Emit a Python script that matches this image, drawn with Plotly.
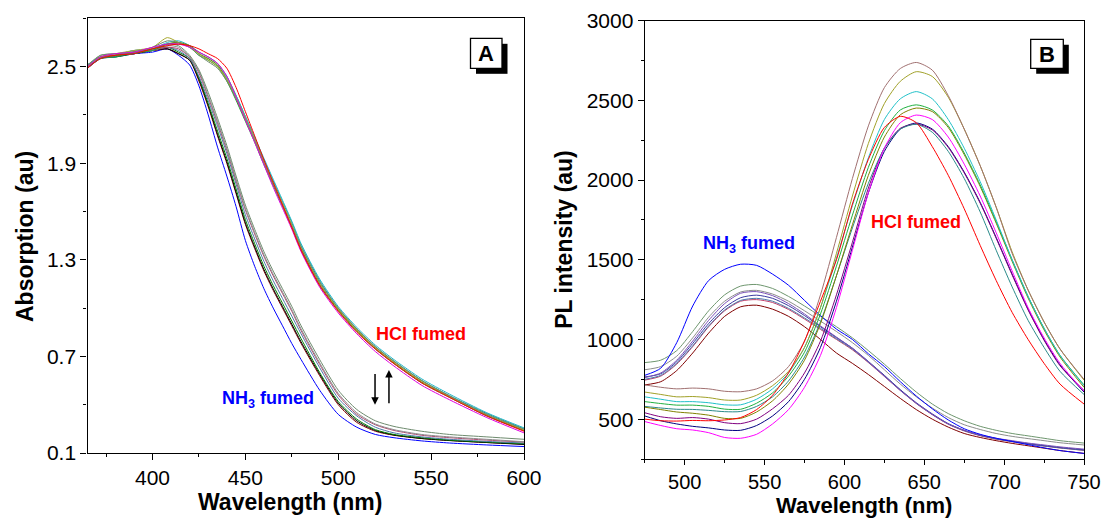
import plotly.graph_objects as go

# ---------------- Panel A: absorption (au) vs wavelength (nm) ----------------
wl_A = [365, 372, 380, 390, 400, 408, 414, 420, 425, 430, 435, 440, 445, 450, 455,
        460, 465, 470, 475, 480, 490, 500, 510, 520, 530, 545, 560, 580, 600]

# NH3 fumed spectra
A_nh3_blue = [2.49, 2.55, 2.56, 2.58, 2.59, 2.61, 2.57, 2.51, 2.38, 2.20, 2.00, 1.82, 1.63, 1.42, 1.26,
              1.12, 1.00, 0.89, 0.78, 0.68, 0.49, 0.34, 0.26, 0.215, 0.195, 0.175, 0.162, 0.150, 0.140]
A_nh3_wine = [2.50, 2.55, 2.57, 2.59, 2.60, 2.61, 2.58, 2.54, 2.41, 2.25, 2.07, 1.90, 1.71, 1.52, 1.37,
              1.23, 1.11, 1.00, 0.89, 0.78, 0.58, 0.40, 0.29, 0.235, 0.210, 0.190, 0.178, 0.165, 0.155]
A_nh3_black = [2.50, 2.56, 2.57, 2.58, 2.60, 2.61, 2.58, 2.54, 2.42, 2.26, 2.08, 1.91, 1.72, 1.53, 1.38,
               1.24, 1.12, 1.01, 0.90, 0.79, 0.59, 0.41, 0.30, 0.240, 0.212, 0.190, 0.177, 0.165, 0.153]
A_nh3_green = [2.51, 2.56, 2.56, 2.58, 2.60, 2.62, 2.59, 2.55, 2.43, 2.27, 2.10, 1.93, 1.74, 1.55, 1.40,
               1.26, 1.14, 1.03, 0.92, 0.81, 0.60, 0.42, 0.31, 0.245, 0.215, 0.195, 0.180, 0.168, 0.158]
A_nh3_steel = [2.49, 2.55, 2.57, 2.58, 2.61, 2.62, 2.60, 2.55, 2.44, 2.29, 2.13, 1.96, 1.77, 1.58, 1.43,
               1.29, 1.17, 1.06, 0.95, 0.84, 0.63, 0.44, 0.33, 0.260, 0.225, 0.200, 0.185, 0.172, 0.162]
A_nh3_rose = [2.51, 2.55, 2.57, 2.60, 2.60, 2.62, 2.61, 2.56, 2.46, 2.31, 2.15, 1.98, 1.79, 1.61, 1.46,
              1.32, 1.20, 1.09, 0.98, 0.86, 0.65, 0.46, 0.34, 0.275, 0.240, 0.210, 0.195, 0.180, 0.168]
A_nh3_gray = [2.50, 2.56, 2.57, 2.59, 2.60, 2.63, 2.62, 2.56, 2.47, 2.32, 2.16, 1.99, 1.80, 1.62, 1.47,
              1.33, 1.21, 1.10, 0.99, 0.87, 0.66, 0.47, 0.35, 0.280, 0.245, 0.215, 0.200, 0.185, 0.170]
A_nh3_graygreen = [2.50, 2.57, 2.58, 2.59, 2.61, 2.64, 2.63, 2.57, 2.48, 2.34, 2.18, 2.01, 1.82, 1.64, 1.49,
                   1.35, 1.23, 1.12, 1.01, 0.89, 0.68, 0.49, 0.37, 0.300, 0.265, 0.235, 0.215, 0.200, 0.185]

# HCl fumed spectra
A_hcl_red = [2.49, 2.55, 2.57, 2.58, 2.61, 2.63, 2.64, 2.63, 2.61, 2.58, 2.55, 2.49, 2.37, 2.22, 2.07,
             1.92, 1.78, 1.64, 1.50, 1.36, 1.14, 0.98, 0.85, 0.745, 0.655, 0.535, 0.445, 0.330, 0.235]
A_hcl_magenta = [2.50, 2.56, 2.58, 2.59, 2.62, 2.64, 2.64, 2.62, 2.59, 2.56, 2.52, 2.44, 2.31, 2.17, 2.03,
                 1.89, 1.75, 1.62, 1.49, 1.35, 1.13, 0.97, 0.84, 0.730, 0.640, 0.520, 0.430, 0.320, 0.225]
A_hcl_olive = [2.50, 2.56, 2.57, 2.59, 2.61, 2.64, 2.65, 2.63, 2.58, 2.55, 2.51, 2.42, 2.30, 2.17, 2.04,
               1.90, 1.77, 1.64, 1.51, 1.37, 1.15, 0.99, 0.86, 0.750, 0.660, 0.540, 0.450, 0.335, 0.240]
A_hcl_green = [2.50, 2.55, 2.56, 2.59, 2.60, 2.64, 2.65, 2.62, 2.57, 2.54, 2.50, 2.41, 2.29, 2.16, 2.03,
               1.89, 1.76, 1.63, 1.50, 1.36, 1.14, 0.985, 0.855, 0.745, 0.655, 0.535, 0.445, 0.330, 0.240]
A_hcl_cyan = [2.51, 2.56, 2.57, 2.60, 2.61, 2.65, 2.66, 2.63, 2.58, 2.55, 2.51, 2.43, 2.32, 2.19, 2.06,
              1.93, 1.80, 1.67, 1.54, 1.40, 1.18, 1.01, 0.88, 0.770, 0.680, 0.560, 0.465, 0.350, 0.256]
A_hcl_graygreen = [2.51, 2.57, 2.58, 2.59, 2.62, 2.66, 2.65, 2.62, 2.57, 2.53, 2.49, 2.41, 2.30, 2.17, 2.04,
                   1.90, 1.77, 1.64, 1.51, 1.38, 1.16, 1.00, 0.87, 0.760, 0.670, 0.550, 0.455, 0.340, 0.248]
A_hcl_teal = [2.49, 2.55, 2.57, 2.58, 2.61, 2.64, 2.64, 2.63, 2.59, 2.56, 2.52, 2.44, 2.32, 2.19, 2.06,
              1.92, 1.79, 1.66, 1.53, 1.39, 1.17, 1.00, 0.87, 0.760, 0.670, 0.550, 0.455, 0.345, 0.250]
A_hcl_yellow = [2.50, 2.56, 2.58, 2.60, 2.62, 2.68, 2.65, 2.62, 2.58, 2.54, 2.50, 2.42, 2.31, 2.18, 2.05,
                1.91, 1.78, 1.65, 1.52, 1.38, 1.16, 0.995, 0.865, 0.755, 0.665, 0.545, 0.450, 0.338, 0.244]

# ---------------- Panel B: PL intensity (au) vs wavelength (nm) ----------------
wl_B = [475, 485, 495, 505, 515, 525, 535, 545, 555, 565, 575, 585, 595, 605,
        615, 625, 635, 645, 655, 665, 675, 685, 695, 705, 715, 725, 735, 750]

# NH3 fumed spectra
B_nh3_blue = [775, 820, 980, 1210, 1370, 1440, 1472, 1465, 1410, 1340, 1245, 1150, 1065, 1000,
              910, 830, 735, 645, 565, 495, 440, 405, 380, 360, 340, 320, 303, 285]
B_nh3_graygreen = [855, 870, 930, 1050, 1180, 1280, 1335, 1345, 1320, 1270, 1210, 1145, 1080, 1010,
                   930, 845, 755, 670, 595, 535, 490, 455, 430, 410, 395, 380, 365, 350]
B_nh3_gray = [810, 830, 895, 1010, 1140, 1240, 1298, 1308, 1285, 1240, 1180, 1115, 1050, 980,
              900, 810, 720, 640, 570, 510, 465, 435, 410, 392, 378, 365, 352, 338]
B_nh3_purple = [760, 790, 870, 990, 1120, 1225, 1290, 1300, 1275, 1225, 1160, 1085, 1015, 945,
                860, 770, 680, 600, 530, 470, 430, 400, 380, 365, 350, 338, 326, 312]
B_nh3_navy = [765, 785, 860, 975, 1100, 1200, 1262, 1278, 1258, 1212, 1150, 1080, 1012, 945,
              862, 775, 685, 603, 533, 472, 430, 400, 378, 362, 347, 334, 322, 308]
B_nh3_steel = [750, 775, 850, 960, 1085, 1185, 1245, 1258, 1240, 1195, 1135, 1070, 1005, 940,
               858, 772, 683, 600, 530, 470, 428, 398, 376, 360, 345, 332, 320, 305]
B_nh3_rose = [745, 770, 845, 955, 1080, 1180, 1240, 1250, 1232, 1188, 1128, 1063, 1000, 935,
              855, 768, 680, 598, 528, 468, 426, 396, 374, 358, 344, 331, 319, 304]
B_nh3_wine = [715, 735, 805, 915, 1040, 1145, 1205, 1215, 1190, 1145, 1080, 1000, 915, 850,
              780, 705, 630, 560, 500, 450, 410, 385, 365, 348, 333, 318, 303, 285]

# HCl fumed spectra
B_hcl_brown = [715, 700, 690, 695, 690, 675, 672, 690, 740, 830, 990, 1280, 1640, 2010,
               2340, 2580, 2700, 2738, 2690, 2530, 2320, 2090, 1830, 1540, 1310, 1110, 940, 750]
B_hcl_yellow = [670, 655, 640, 642, 635, 620, 620, 650, 710, 800, 950, 1200, 1540, 1900,
                2230, 2480, 2620, 2680, 2650, 2520, 2320, 2090, 1830, 1550, 1310, 1110, 940, 745]
B_hcl_cyan = [640, 625, 610, 610, 603, 590, 590, 625, 690, 790, 950, 1200, 1510, 1840,
              2140, 2380, 2510, 2555, 2510, 2380, 2200, 1990, 1750, 1500, 1270, 1070, 900, 710]
B_hcl_green = [610, 598, 588, 588, 580, 563, 562, 600, 665, 770, 920, 1160, 1460, 1780,
               2080, 2310, 2440, 2472, 2440, 2340, 2170, 1970, 1740, 1500, 1270, 1070, 900, 715]
B_hcl_olive = [575, 560, 545, 537, 525, 505, 505, 545, 615, 720, 870, 1100, 1400, 1720,
               2030, 2270, 2410, 2452, 2430, 2330, 2160, 1960, 1730, 1490, 1260, 1060, 890, 700]
B_hcl_teal = [580, 570, 562, 561, 555, 547, 548, 580, 640, 740, 890, 1110, 1400, 1700,
              1980, 2200, 2320, 2350, 2300, 2180, 2010, 1800, 1560, 1330, 1120, 950, 800, 655]
B_hcl_red = [500, 490, 488, 492, 490, 495, 510, 560, 650, 790, 990, 1240, 1500, 1850,
             2130, 2330, 2400, 2360, 2210, 2030, 1820, 1590, 1370, 1170, 1000, 850, 720, 595]
B_hcl_purple = [540, 515, 505, 510, 500, 478, 472, 500, 565, 650, 790, 990, 1280, 1610,
                1950, 2200, 2325, 2352, 2315, 2205, 2045, 1855, 1635, 1405, 1185, 995, 835, 680]
B_hcl_navy = [520, 490, 470, 455, 445, 432, 430, 460, 520, 610, 750, 950, 1240, 1580,
              1920, 2180, 2320, 2358, 2320, 2210, 2050, 1860, 1640, 1410, 1190, 1000, 840, 670]
B_hcl_magenta = [485, 460, 440, 432, 415, 385, 380, 405, 470, 560, 700, 900, 1200, 1560,
                 1920, 2200, 2360, 2408, 2380, 2270, 2100, 1900, 1670, 1430, 1200, 1010, 850, 675]

# tick settings
A_xticks = [400, 450, 500, 550, 600]
A_yticks = [0.1, 0.7, 1.3, 1.9, 2.5]
B_xticks = [500, 550, 600, 650, 700, 750]
B_yticks = [500, 1000, 1500, 2000, 2500, 3000]

FONT = "Liberation Sans, Arial, sans-serif"
W, H = 1107, 519

series_A = [
    (A_nh3_blue, "#0000FF"), (A_nh3_wine, "#800000"), (A_nh3_black, "#000000"),
    (A_nh3_green, "#008000"), (A_nh3_steel, "#4A78A8"), (A_nh3_rose, "#B04870"),
    (A_nh3_gray, "#8C8C8C"), (A_nh3_graygreen, "#6E8B6E"),
    (A_hcl_teal, "#208A8A"), (A_hcl_cyan, "#20B8C8"), (A_hcl_green, "#20A040"),
    (A_hcl_olive, "#808000"), (A_hcl_yellow, "#A8A830"), (A_hcl_graygreen, "#6E8B6E"),
    (A_hcl_magenta, "#E000E0"), (A_hcl_red, "#FF0000"),
]
series_B = [
    (B_nh3_wine, "#800000"), (B_nh3_rose, "#C0406A"), (B_nh3_steel, "#4A78A8"),
    (B_nh3_navy, "#3A3AA0"), (B_nh3_purple, "#7A50B8"), (B_nh3_gray, "#8C8C8C"),
    (B_nh3_graygreen, "#6E966E"), (B_nh3_blue, "#0000FF"),
    (B_hcl_navy, "#000080"), (B_hcl_purple, "#800080"), (B_hcl_teal, "#2A8A8A"),
    (B_hcl_magenta, "#FF00FF"), (B_hcl_olive, "#808000"), (B_hcl_green, "#20B040"),
    (B_hcl_cyan, "#20C0C8"), (B_hcl_yellow, "#A0A028"), (B_hcl_brown, "#A07070"),
    (B_hcl_red, "#FF0000"),
]

fig = go.Figure()
for ys, c in series_A:
    fig.add_trace(go.Scatter(x=wl_A, y=ys, mode="lines", xaxis="x", yaxis="y",
                             line=dict(color=c, width=1, shape="spline", smoothing=0.7),
                             showlegend=False, hoverinfo="skip"))
for ys, c in series_B:
    fig.add_trace(go.Scatter(x=wl_B, y=ys, mode="lines", xaxis="x2", yaxis="y2",
                             line=dict(color=c, width=1, shape="spline", smoothing=0.7),
                             showlegend=False, hoverinfo="skip"))

# pixel geometry of the two plot boxes
A_l, A_r, A_t, A_b = 87.5, 524.0, 18.3, 453.0
B_l, B_r, B_t, B_b = 644.8, 1084.0, 20.7, 459.0

def px_x(p):
    return p / W

def px_y(p):
    return 1 - p / H

def axis_style(size, tlen=6):
    return dict(showgrid=False, zeroline=False, showline=True, linecolor="black",
                linewidth=1.4, mirror=True, ticks="outside", ticklen=tlen, tickwidth=1.4,
                tickcolor="black", automargin=False,
                tickfont=dict(family=FONT, size=size, color="black"))

def minor(t0, dt):
    return dict(ticks="outside", ticklen=3, tickwidth=1.2, tickcolor="black", tick0=t0, dtick=dt)

fig.update_layout(
    width=W, height=H, margin=dict(l=0, r=0, t=0, b=0),
    paper_bgcolor="white", plot_bgcolor="white",
    font=dict(family=FONT, color="black"),
    xaxis=dict(domain=[px_x(A_l), px_x(A_r)], range=[365, 600], tickvals=A_xticks,
               minor=minor(375, 25), anchor="y", **axis_style(21)),
    yaxis=dict(domain=[px_y(A_b), px_y(A_t)], range=[0.1, 2.8], tickvals=A_yticks,
               tickformat=".1f", minor=minor(0.1, 0.3), anchor="x", **axis_style(21)),
    xaxis2=dict(domain=[px_x(B_l), px_x(B_r)], range=[475, 750], tickvals=B_xticks,
                minor=minor(475, 25), anchor="y2", **axis_style(20, 5)),
    yaxis2=dict(domain=[px_y(B_b), px_y(B_t)], range=[250, 3000], tickvals=B_yticks,
                minor=minor(250, 250), anchor="x2", **axis_style(21)),
)

annos = []
C = dict(xanchor="center", yanchor="middle", showarrow=False)
title_font = dict(family=FONT, size=23, color="black")
# axis titles
annos.append(dict(text="<b>Wavelength (nm)</b>", xref="paper", yref="paper",
                  x=px_x(290), y=px_y(502), font=title_font, **C))
annos.append(dict(text="<b>Wavelength (nm)</b>", xref="paper", yref="paper",
                  x=px_x((B_l + B_r) / 2), y=px_y(505.5),
                  font=dict(family=FONT, size=22, color="black"), **C))
annos.append(dict(text="<b>Absorption (au)</b>", xref="paper", yref="paper", textangle=-90,
                  x=px_x(25), y=px_y(237), font=title_font, **C))
annos.append(dict(text="<b>PL intensity (au)</b>", xref="paper", yref="paper", textangle=-90,
                  x=px_x(564), y=px_y((B_t + B_b) / 2), font=title_font, **C))
# in-plot labels
lab_font_r = dict(family=FONT, size=18, color="#FF0000")
lab_font_b = dict(family=FONT, size=18, color="#0000FF")
annos.append(dict(text="<b>HCl fumed</b>", xref="x", yref="y", x=544.5, y=0.84,
                  font=lab_font_r, **C))
annos.append(dict(text="<b>NH<sub>3</sub> fumed</b>", xref="x", yref="y", x=462, y=0.43,
                  font=lab_font_b, **C))
annos.append(dict(text="<b>HCl fumed</b>", xref="x2", yref="y2", x=645, y=1737,
                  font=lab_font_r, **C))
annos.append(dict(text="<b>NH<sub>3</sub> fumed</b>", xref="x2", yref="y2", x=540, y=1593,
                  font=lab_font_b, **C))
# arrows in panel A
annos.append(dict(x=519.8, y=0.40, ax=519.8, ay=0.60, xref="x", yref="y", axref="x", ayref="y",
                  showarrow=True, arrowhead=2, arrowsize=1, arrowwidth=1.5, arrowcolor="black", text=""))
annos.append(dict(x=527.3, y=0.615, ax=527.3, ay=0.40, xref="x", yref="y", axref="x", ayref="y",
                  showarrow=True, arrowhead=2, arrowsize=1, arrowwidth=1.5, arrowcolor="black", text=""))

# panel letters with shadowed boxes
shapes = []
for (x0, y0, x1, y1, letter) in [(470.5, 38.3, 502.0, 68.3, "A"), (1030.7, 39.3, 1063.3, 68.3, "B")]:
    shapes.append(dict(type="rect", xref="paper", yref="paper",
                       x0=px_x(x0 + 5.5), x1=px_x(x1 + 5.5), y0=px_y(y1 + 5.5), y1=px_y(y0 + 5.5),
                       fillcolor="black", line=dict(width=0)))
    shapes.append(dict(type="rect", xref="paper", yref="paper",
                       x0=px_x(x0), x1=px_x(x1), y0=px_y(y1), y1=px_y(y0),
                       fillcolor="white", line=dict(color="black", width=1.3)))
    annos.append(dict(text="<b>%s</b>" % letter, xref="paper", yref="paper",
                      x=px_x((x0 + x1) / 2), y=px_y((y0 + y1) / 2 + 0.5),
                      font=dict(family=FONT, size=22, color="black"), **C))

fig.update_layout(annotations=annos, shapes=shapes)

fig.write_html("out.html", config={"displayModeBar": False},
               post_script="document.body.style.margin='0';")
